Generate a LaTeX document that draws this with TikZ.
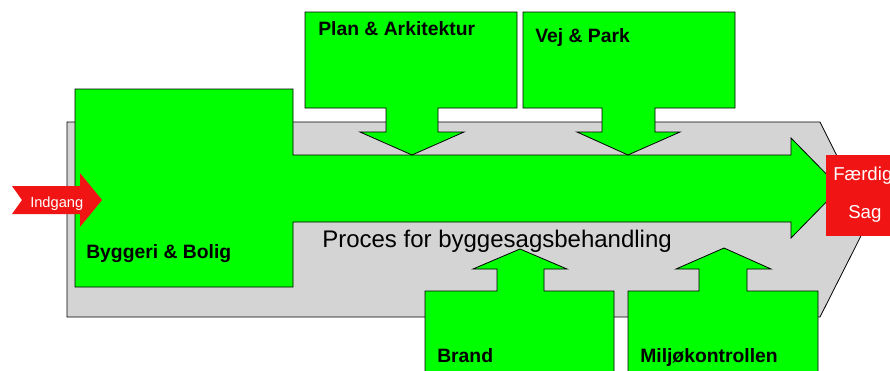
\documentclass[tikz,border=0pt]{standalone}
\usepackage{fontspec}
\setmainfont{Liberation Sans}
\usepackage{tikz}
\definecolor{proc}{HTML}{D4D4D4}
\definecolor{afd}{HTML}{00FF00}
\definecolor{ind}{HTML}{F01414}

\begin{document}
\begin{tikzpicture}[x=0.75pt,y=-0.75pt,
    afdshape/.style={fill=afd,draw=black,line width=0.6pt},
    afdlabel/.style={anchor=base west,inner sep=0pt,font=\fontsize{14.5}{16}\selectfont\bfseries},
    redlabel/.style={anchor=base west,inner sep=0pt,text=white}]
        \clip (0,0) rectangle (890,371);

        % process background
        \fill[proc,draw=black,line width=0.6pt] (67,122) -- (820,122) -- (869,220)
        -- (820,317) -- (67,317) -- cycle;

        % Byggeri & Bolig with main arrow
        \path[afdshape] (75,89) -- (293,89) -- (293,155) -- (791,155) -- (791,138)
        -- (840,188) -- (791,238) -- (791,222) -- (293,222) -- (293,287)
        -- (75,287) -- cycle;

        % Plan & Arkitektur
        \path[afdshape] (305,12) -- (517,12) -- (517,108) -- (438,108) -- (438,132)
        -- (464,132) -- (412,155) -- (360,132) -- (386,132) -- (386,108)
        -- (305,108) -- cycle;

        % Vej & Park
        \path[afdshape] (523,12) -- (735,12) -- (735,108) -- (655,108) -- (655,132)
        -- (680,132) -- (628,155) -- (577,132) -- (602,132) -- (602,108)
        -- (523,108) -- cycle;

        % Brand
        \path[afdshape] (425,390) -- (425,291) -- (497,291) -- (497,269) -- (473,269)
        -- (520,249) -- (567,269) -- (544,269) -- (544,291) -- (614,291)
        -- (614,390) -- cycle;

        % Miljoekontrollen
        \path[afdshape] (628,390) -- (628,291) -- (699,291) -- (699,269) -- (676,269)
        -- (724,248) -- (771,269) -- (747,269) -- (747,291) -- (818,291)
        -- (818,390) -- cycle;

        % ind og ud
        \fill[ind] (12,186) -- (80,186) -- (80,173) -- (102,200) -- (80,227)
        -- (80,214) -- (12,214) -- (22,200) -- cycle;
        \fill[ind] (826,155) rectangle (905,236);

        \path
        (318,36) node[afdlabel] (plan) {Plan \& Arkitektur}
        (535,42) node[afdlabel] (vej) {Vej \& Park}
        (86,258) node[afdlabel] (bygg) {Byggeri \& Bolig}
        (437,362) node[afdlabel] (brand) {Brand}
        (640,362) node[afdlabel] (milj) {Miljøkontrollen}
        (322,247) node[anchor=base west,inner sep=0pt,font=\fontsize{18}{20}\selectfont] (proces) {Proces for byggesagsbehandling}
        (30,207) node[redlabel,font=\fontsize{11}{12}\selectfont] (indg) {Indgang}
        (833,180) node[redlabel,font=\fontsize{14}{16}\selectfont] (faerd) {Færdig}
        (848,218) node[redlabel,font=\fontsize{14}{16}\selectfont] (sag) {Sag}
        ;
      \end{tikzpicture}
\end{document}
